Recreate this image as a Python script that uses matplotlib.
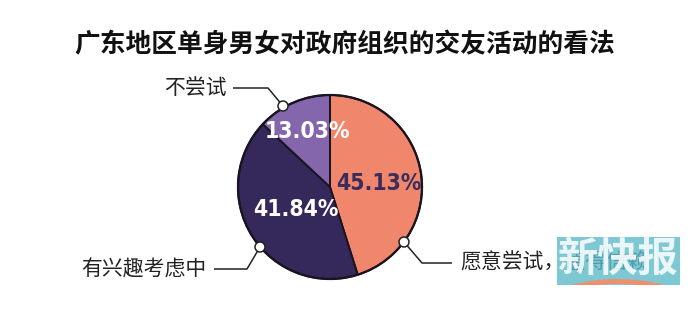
import matplotlib
matplotlib.use("Agg")
import matplotlib.pyplot as plt
from matplotlib import font_manager
from matplotlib.font_manager import FontProperties
from matplotlib.patches import Circle, Rectangle, Wedge

plt.rcParams['font.family'] = ['Noto Sans CJK SC', 'DejaVu Sans']

title = "广东地区单身男女对政府组织的交友活动的看法"
categories = ["愿意尝试，值得信赖", "有兴趣考虑中", "不尝试"]
shares = [45.13, 41.84, 13.03]
colors = ["#F0876C", "#35295C", "#8466AC"]
pct_colors = ["#3A2D5E", "white", "white"]

# narrow face for the percentages: a condensed font if one is present, else Roboto
narrow_files = [f for f in font_manager.fontManager.ttflist
                if ('Condensed' in f.name or 'Narrow' in f.name
                    or f.stretch in ('condensed', 'semi-condensed'))
                and f.weight in (500, 600, 700, 'medium', 'bold', 'semibold')
                and f.style == 'normal']
if narrow_files:
    pct_font = FontProperties(fname=narrow_files[0].fname, size=16.5)
else:
    pct_font = FontProperties(family='Roboto', weight='medium', size=16.5)

W, H = 690, 312
fig = plt.figure(figsize=(W / 100, H / 100), dpi=100)
ax = fig.add_axes([0, 0, 1, 1])

cx, cy, r = 330, H - 187, 92

ax.pie(shares, colors=colors, startangle=90, counterclock=False,
       center=(cx, cy), radius=r, normalize=True,
       wedgeprops=dict(edgecolor="#1a1420", linewidth=1.4))
ax.set_xlim(0, W)
ax.set_ylim(0, H)
ax.set_aspect('equal')
ax.axis('off')
# outer ring
ax.add_patch(Circle((cx, cy), r, fill=False, edgecolor="#1a1420", lw=1.6, zorder=3))

# percentage labels
pct_pos = [(379, H - 183), (296, H - 209), (307, H - 131)]
for v, (px, py), c in zip(shares, pct_pos, pct_colors):
    ax.text(px, py, f"{v:.2f}%", ha='center', va='center', color=c,
            fontproperties=pct_font, zorder=5)

# leader lines with small white dots on the rim
leaders = [
    # (dot, elbow, end, text anchor, ha)
    ((404, H - 242), (422, H - 263), (452, H - 263), (460, H - 263), 'left'),
    ((260, H - 247), (247, H - 269), (214, H - 269), (206, H - 269), 'right'),
    ((283, H - 106), (268, H - 88), (233, H - 88), (227, H - 88), 'right'),
]
for name, (dot, elbow, end, tpos, ha) in zip(categories, leaders):
    ax.plot([dot[0], elbow[0], end[0]], [dot[1], elbow[1], end[1]],
            color="#222222", lw=1.1, zorder=4, solid_capstyle='butt')
    ax.add_patch(Circle(dot, 5, facecolor='white', edgecolor="#222222", lw=1.1, zorder=6))
    ax.text(tpos[0], tpos[1], name, ha=ha, va='center', fontsize=15,
            color="#222222", zorder=4)

ax.text(W / 2, H - 45, title, ha='center', va='center', fontsize=18.5,
        fontweight='bold', color="#111111")

# newspaper mark in the lower right corner
box = Rectangle((557, H - 285), 123, 48, facecolor="#5DBBC9", edgecolor='none',
                alpha=0.8, zorder=7)
ax.add_patch(box)
band = Wedge((618, H - 285 - 180), 186, 60, 120, width=5, facecolor="#EE8F70",
             edgecolor='none', zorder=8)
ax.add_patch(band)
band.set_clip_path(box)
ax.text(618, H - 259, "新快报", ha='center', va='center', fontsize=29,
        fontweight='bold', color='white', alpha=0.85, zorder=9)

fig.savefig("out.png", dpi=100)
